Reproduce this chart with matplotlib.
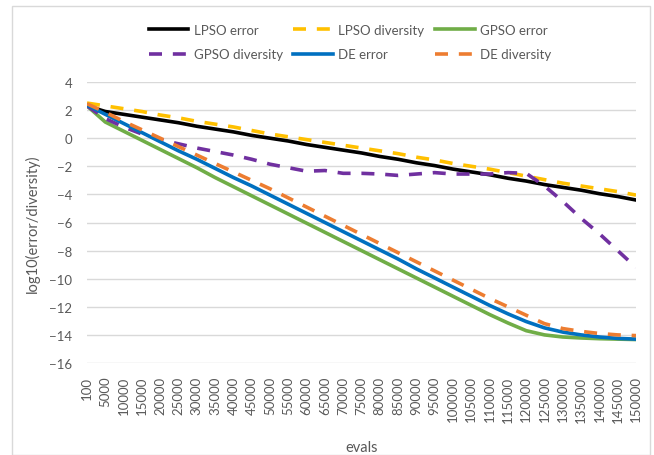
import matplotlib
matplotlib.use("Agg")
import matplotlib.pyplot as plt
from matplotlib.patches import Rectangle

# category axis (evals)
evals = [100] + list(range(5000, 150001, 5000))
evals_labels = [str(e) for e in evals]

lpso_error = [2.3, 1.9, 1.7, 1.5, 1.3, 1.1, 0.85, 0.65, 0.45, 0.2, 0.0,
              -0.2, -0.45, -0.65, -0.85, -1.05, -1.3, -1.5, -1.75, -1.95, -2.2,
              -2.4, -2.6, -2.85, -3.05, -3.3, -3.5, -3.7, -3.95, -4.15, -4.4]
lpso_div = [2.5, 2.3, 2.1, 1.9, 1.65, 1.45, 1.2, 1.0, 0.8, 0.55, 0.3,
            0.1, -0.1, -0.3, -0.5, -0.7, -0.9, -1.1, -1.35, -1.55, -1.8,
            -2.0, -2.2, -2.45, -2.7, -2.95, -3.2, -3.4, -3.6, -3.8, -4.05]
gpso_error = [2.3, 1.15, 0.5, -0.15, -0.8, -1.45, -2.1, -2.8, -3.45, -4.1, -4.75,
              -5.4, -6.05, -6.7, -7.35, -8.0, -8.65, -9.3, -9.95, -10.6, -11.25,
              -11.9, -12.55, -13.15, -13.7, -14.0, -14.15, -14.22, -14.27, -14.3, -14.33]
gpso_div = [2.3, 1.4, 0.8, 0.3, -0.1, -0.4, -0.7, -0.95, -1.2, -1.5, -1.85,
            -2.1, -2.35, -2.3, -2.5, -2.5, -2.55, -2.65, -2.55, -2.45, -2.55,
            -2.55, -2.55, -2.45, -2.5, -3.4, -4.5, -5.7, -6.8, -8.0, -9.2]
de_error = [2.35, 1.7, 1.05, 0.4, -0.25, -0.9, -1.5, -2.15, -2.8, -3.4, -4.05,
            -4.7, -5.35, -6.0, -6.65, -7.3, -7.95, -8.6, -9.3, -9.95, -10.6,
            -11.25, -11.9, -12.5, -13.05, -13.5, -13.8, -14.0, -14.15, -14.25, -14.3]
de_div = [2.45, 1.85, 1.2, 0.6, 0.0, -0.6, -1.2, -1.8, -2.4, -3.0, -3.6,
          -4.25, -4.9, -5.55, -6.2, -6.85, -7.5, -8.15, -8.8, -9.45, -10.1,
          -10.75, -11.4, -12.0, -12.6, -13.2, -13.55, -13.75, -13.9, -14.0, -14.05]

plt.rcParams["font.family"] = ["Lato", "DejaVu Sans"]
TXT = "#595959"
GRID = "#D9D9D9"

fig = plt.figure(figsize=(6.54, 4.56), dpi=100)
fig.patches.append(Rectangle((12 / 654, 0), 638 / 654, 1 - 7 / 456,
                             transform=fig.transFigure, fill=False,
                             edgecolor=GRID, lw=1))
ax = fig.add_axes([87 / 654, 1 - 364 / 456, (636 - 87) / 654, (364 - 83) / 456])

x = list(range(len(evals)))
lw = 2.6
dash = (3.6, 3.0)
h1, = ax.plot(x, lpso_error, color="#000000", lw=lw, label="LPSO error")
h2, = ax.plot(x, lpso_div, color="#FFC000", lw=lw, dashes=dash, label="LPSO diversity")
h3, = ax.plot(x, gpso_error, color="#70AD47", lw=lw, label="GPSO error")
h4, = ax.plot(x, gpso_div, color="#7030A0", lw=lw, dashes=dash, label="GPSO diversity")
h5, = ax.plot(x, de_error, color="#0070C0", lw=lw, label="DE error")
h6, = ax.plot(x, de_div, color="#ED7D31", lw=lw, dashes=dash, label="DE diversity")

ax.set_xlim(0, len(evals) - 1)
ax.set_ylim(-16, 4)
ax.set_yticks(range(-16, 5, 2))
ax.set_xticks(x)
ax.set_xticklabels(evals_labels, rotation=90)
ax.grid(axis="y", color=GRID, lw=1)
ax.set_axisbelow(True)
for s in ax.spines.values():
    s.set_visible(False)
ax.tick_params(axis="both", length=0, labelsize=9.5, colors=TXT)
ax.tick_params(axis="y", pad=10.5)
ax.tick_params(axis="x", pad=9)
ax.set_xlabel("evals", fontsize=10.5, color=TXT, labelpad=13)
ax.set_ylabel("log10(error/diversity)", fontsize=10.5, color=TXT, labelpad=7)

# legend filled column-wise, so reorder to read row-wise
handles = [h1, h4, h2, h5, h3, h6]
fig.legend(handles=handles, labels=[h.get_label() for h in handles],
           ncol=3, loc="center", bbox_to_anchor=(350 / 654, 1 - 43 / 456),
           frameon=False, fontsize=9.5, labelcolor=TXT, handlelength=3.0,
           handletextpad=0.4, columnspacing=0.8, labelspacing=0.95)

fig.savefig("out.png", dpi=100)
